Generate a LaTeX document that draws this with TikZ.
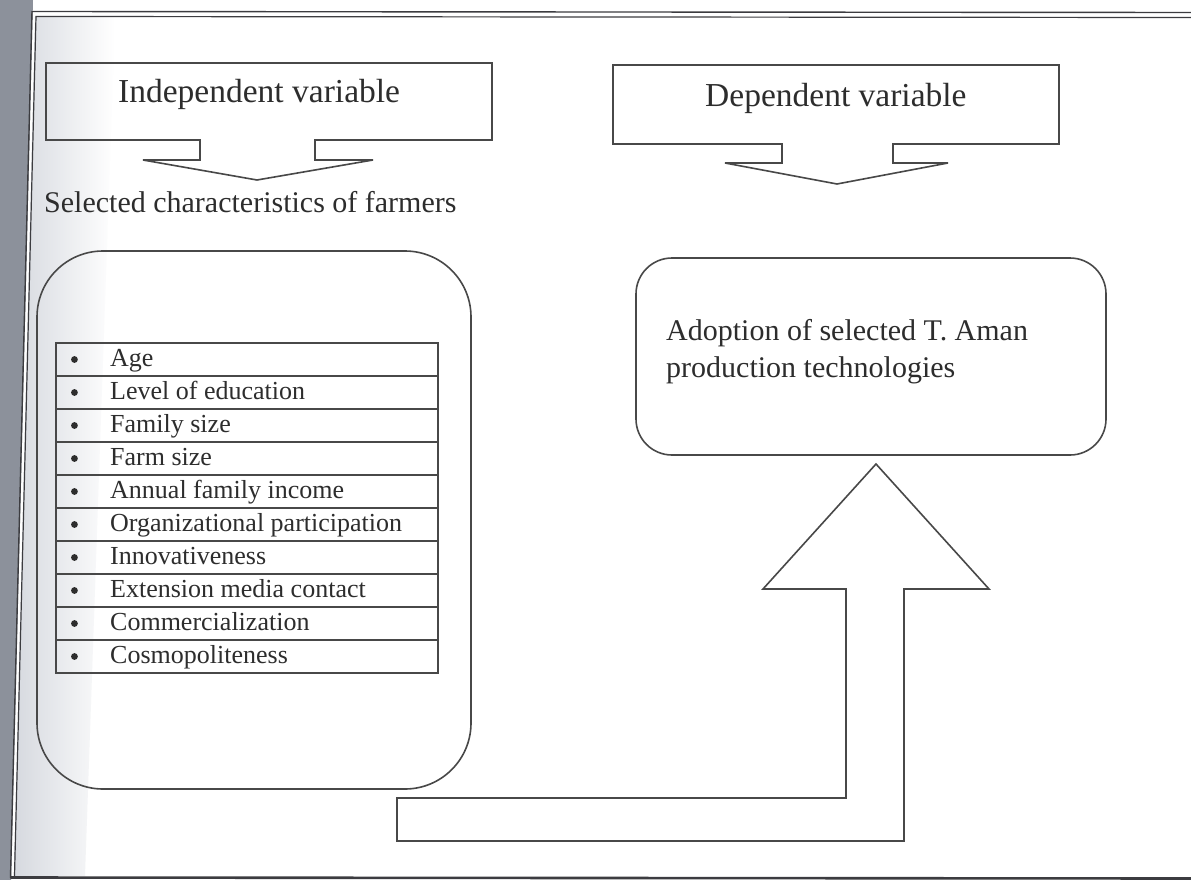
\documentclass[tikz,border=0pt]{standalone}
\usepackage{fontspec}
\setmainfont{Liberation Serif}
\usetikzlibrary{calc}
\definecolor{linec}{RGB}{72,72,72}
\definecolor{textc}{RGB}{45,45,45}
\definecolor{framec}{RGB}{60,60,64}
\definecolor{sidegray}{RGB}{140,145,155}
\definecolor{fadegray}{RGB}{214,217,223}
\begin{document}
\begin{tikzpicture}[x=1pt,y=-1pt,line join=miter,
  outline/.style={draw=linec,line width=1.6pt},
  roundbox/.style={draw=linec,line width=1.6pt,inner sep=0pt},
  rowbox/.style={draw=linec,line width=1.1pt,minimum width=382pt,minimum height=33pt,inner sep=0pt},
  bigtxt/.style={text=textc,inner sep=0pt,font=\fontsize{33.5}{40}\selectfont},
  midtxt/.style={text=textc,inner sep=0pt,font=\fontsize{30}{37}\selectfont},
  listtxt/.style={text=textc,inner sep=0pt,font=\fontsize{26}{31}\selectfont}]
\useasboundingbox (0,0) rectangle (1191,880);
\fill[white] (0,0) rectangle (1191,880);
% scan shading at the left edge
\fill[sidegray] (0,0) -- (33,0) -- (11,880) -- (0,880) -- cycle;
\shade[left color=fadegray,right color=white] (35,17) -- (115,17) -- (85,876) -- (14,876) -- cycle;
% double frame
\draw[framec,line width=1.4pt] (1191,12.5) -- (32,11.5) -- (10.5,878);
\draw[framec,line width=1.2pt] (1191,17.5) -- (36,16.5) -- (14.5,876);
\draw[framec,line width=2.6pt] (10.5,877.5) -- (1191,878.5);

% Independent variable callout
\draw[outline] (46,63) -- (492,63) -- (492,140) -- (315,140) -- (315,160) -- (373,160)
  -- (257,180) -- (143,160) -- (200,160) -- (200,140) -- (46,140) -- cycle;
\node[bigtxt,anchor=base west] (indep) at (118,103) {Independent variable};

% Dependent variable callout
\draw[outline] (613,65) -- (1059,65) -- (1059,144) -- (893,144) -- (893,163) -- (948,163)
  -- (837,184) -- (725,163) -- (782,163) -- (782,144) -- (613,144) -- cycle;
\node[bigtxt,anchor=base west] (dep) at (705,107) {Dependent variable};

\node[midtxt,anchor=base west] (sel) at (44,212) {Selected characteristics of farmers};

% left rounded box with table
\node[roundbox,rounded corners=66pt,minimum width=434pt,minimum height=538pt] (charbox) at (254,520) {};
\foreach \i/\t in {0/Age,1/Level of education,2/Family size,3/Farm size,4/Annual family income,
  5/Organizational participation,6/Innovativeness,7/Extension media contact,8/Commercialization,9/Cosmopoliteness}{
  \node[rowbox] (row\i) at (247,{359.5+33*\i}) {};
  \fill[textc] ($(row\i.west)+(19,0)$) circle (3.4pt);
  \node[listtxt,anchor=base west] (item\i) at (110,{366.5+33*\i}) {\t};
}

% right rounded box
\node[roundbox,rounded corners=36pt,minimum width=470pt,minimum height=197pt] (adopt) at (871,356.5) {};
\node[midtxt,anchor=base west] (adopt1) at (666,340) {Adoption of selected T. Aman};
\node[midtxt,anchor=base west] (adopt2) at (666,377) {production technologies};

% L-shaped block arrow
\draw[outline] (397,798) -- (846,798) -- (846,589) -- (763,589) -- (876,464) -- (989,589)
  -- (904,589) -- (904,841) -- (397,841) -- cycle;
\end{tikzpicture}
\end{document}
